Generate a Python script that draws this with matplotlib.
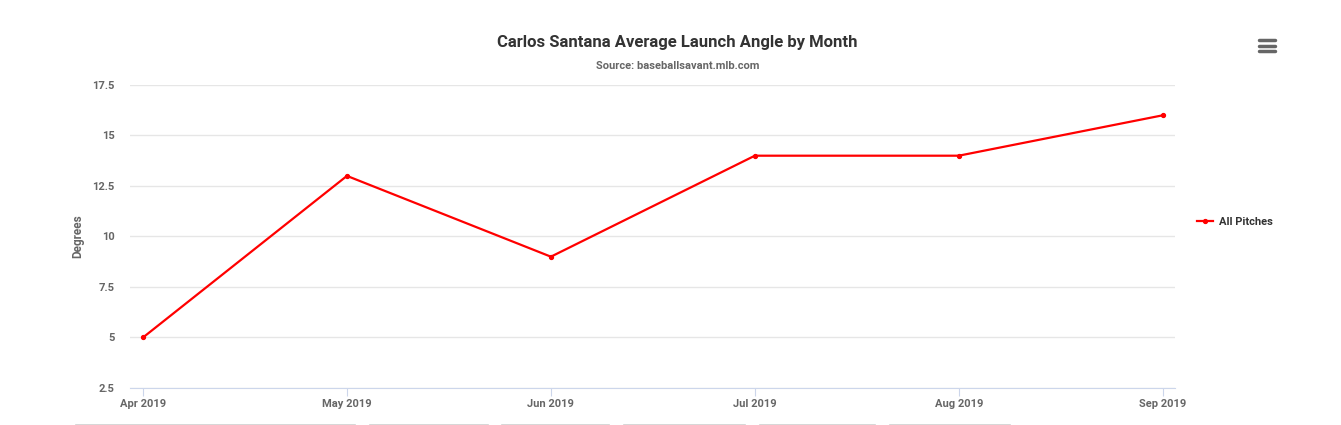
import matplotlib
matplotlib.use("Agg")
import matplotlib.pyplot as plt
from matplotlib.lines import Line2D

months = ["Apr 2019", "May 2019", "Jun 2019", "Jul 2019", "Aug 2019", "Sep 2019"]
launch_angle = [5, 13, 9, 14, 14, 16]
yticks = [2.5, 5, 7.5, 10, 12.5, 15, 17.5]
ytick_labels = ["2.5", "5", "7.5", "10", "12.5", "15", "17.5"]


def main():
    plt.rcParams['font.family'] = ['Roboto', 'DejaVu Sans']
    fig = plt.figure(figsize=(13.41, 4.25), dpi=100)
    ax = fig.add_axes([0.0969, 0.0871, 0.7793, 0.7129])

    x = list(range(len(months)))
    ax.plot(x, launch_angle, color='#ff0000', lw=1.6, marker='o', ms=2.8, label='All Pitches')

    ax.set_xlim(-0.064, 5.06)
    ax.set_ylim(2.5, 17.5)
    ax.set_yticks(yticks)
    ax.set_yticklabels(ytick_labels)
    ax.set_xticks(x)
    ax.set_xticklabels(months)
    ax.grid(axis='y', color='#e6e6e6', lw=1)
    ax.set_axisbelow(True)
    for s in ['top', 'right', 'left']:
        ax.spines[s].set_visible(False)
    ax.spines['bottom'].set_color('#ccd6eb')
    ax.tick_params(axis='y', length=0, pad=11, labelsize=8, labelcolor='#666666')
    ax.tick_params(axis='x', length=6, color='#ccd6eb', pad=2, labelsize=8, labelcolor='#666666')
    for lbl in ax.get_xticklabels() + ax.get_yticklabels():
        lbl.set_fontweight('bold')
    ax.set_ylabel('Degrees', fontsize=8.5, color='#666666', fontweight='bold', labelpad=6)

    fig.text(0.5052, 0.90, 'Carlos Santana Average Launch Angle by Month',
             ha='center', va='center', fontsize=12, fontweight='bold', color='#333333')
    fig.text(0.5052, 0.845, 'Source: baseballsavant.mlb.com',
             ha='center', va='center', fontsize=8, fontweight='bold', color='#666666')

    leg = fig.legend(loc='center left', bbox_to_anchor=(0.885, 0.477), frameon=False,
                     fontsize=8, handlelength=1.5, handletextpad=0.5)
    for t in leg.get_texts():
        t.set_fontweight('bold')
        t.set_color('#333333')

    # menu icon
    for yy in [40, 45.5, 51]:
        fig.add_artist(Line2D([1259 / 1341, 1275 / 1341], [1 - yy / 425] * 2,
                              color='#666666', lw=2.5, solid_capstyle='round'))
    # scrollbar-like segments at bottom
    segs = [(76, 355), (370, 488), (502, 609), (624, 745), (760, 875), (890, 1010)]
    for a, b in segs:
        fig.add_artist(Line2D([a / 1341, b / 1341], [1 - 424.5 / 425] * 2,
                              color='#d0d0d0', lw=1.2))

    fig.savefig('out.png', dpi=100)


if __name__ == "__main__":
    main()
